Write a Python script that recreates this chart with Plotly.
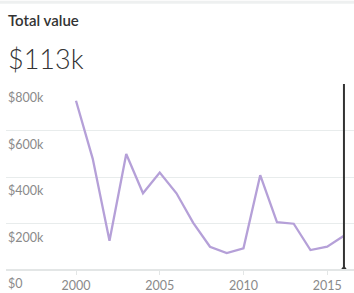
import plotly.graph_objects as go

years = list(range(2000, 2017))
values = [728000, 478000, 126000, 499000, 330000, 419000, 330000, 203000, 100000,
          73000, 93000, 408000, 206000, 199000, 86000, 100000, 147000]
y_ticks = [0, 200000, 400000, 600000, 800000]
y_tick_labels = ["$0", "$200k", "$400k", "$600k", "$800k"]
x_ticks = [2000, 2005, 2010, 2015]
title_text = "Total value"
headline_text = "$113k"
cursor_year = 2016

FONT = "Lato"
fig = go.Figure()
fig.add_trace(go.Scatter(x=years, y=values, mode="lines",
                         line=dict(color="#b5a0d8", width=2.3), hoverinfo="skip"))
fig.add_trace(go.Scatter(x=[cursor_year, cursor_year], y=[0, y_ticks[-1]], mode="lines",
                         line=dict(color="#333333", width=2), hoverinfo="skip"))
fig.add_trace(go.Scatter(x=[cursor_year], y=[0], mode="markers",
                         marker=dict(symbol="triangle-up", size=9, color="#333333"),
                         hoverinfo="skip"))

annotations = []
for v, t in zip(y_ticks, y_tick_labels):
    annotations.append(dict(x=0, xref="paper", y=v, yref="y", text=t, showarrow=False,
                            xanchor="left", yanchor="top", yshift=-4,
                            font=dict(family=FONT, size=12.5, color="#8a8a8a")))

fig.update_layout(
    width=354, height=293,
    margin=dict(l=6, r=0, t=84, b=20),
    paper_bgcolor="white", plot_bgcolor="white",
    showlegend=False,
    xaxis=dict(range=[1995.82, 2016.6], tickvals=x_ticks, ticks="outside", ticklen=4,
               tickcolor="#e3e6e6", showgrid=False, zeroline=False, showline=False,
               tickfont=dict(family=FONT, size=12.5, color="#8a8a8a")),
    yaxis=dict(range=[0, y_ticks[-1]], tickvals=y_ticks, showticklabels=False,
               gridcolor="#e8ecec", gridwidth=1, zeroline=False, showline=False),
    annotations=annotations + [
        dict(x=0, xref="paper", y=1, yref="paper", yshift=64, text=title_text,
             showarrow=False, xanchor="left", yanchor="middle",
             font=dict(family=FONT, size=15, color="#333333", weight=600)),
        dict(x=0, xref="paper", y=1, yref="paper", yshift=26, text=headline_text,
             showarrow=False, xanchor="left", yanchor="middle",
             font=dict(family=FONT, size=27, color="#333333", weight=300)),
    ],
    shapes=[
        dict(type="line", xref="paper", yref="paper", x0=0, x1=1, y0=0, y1=0,
             line=dict(color="#e3e6e6", width=2)),
        dict(type="line", xref="paper", yref="paper", x0=-0.02, x1=1, y0=1.44, y1=1.44,
             line=dict(color="#eef0f0", width=3)),
    ],
)
fig.write_html("out.html", config={"displayModeBar": False},
               post_script="document.body.style.margin='0';document.body.style.overflow='hidden';")
